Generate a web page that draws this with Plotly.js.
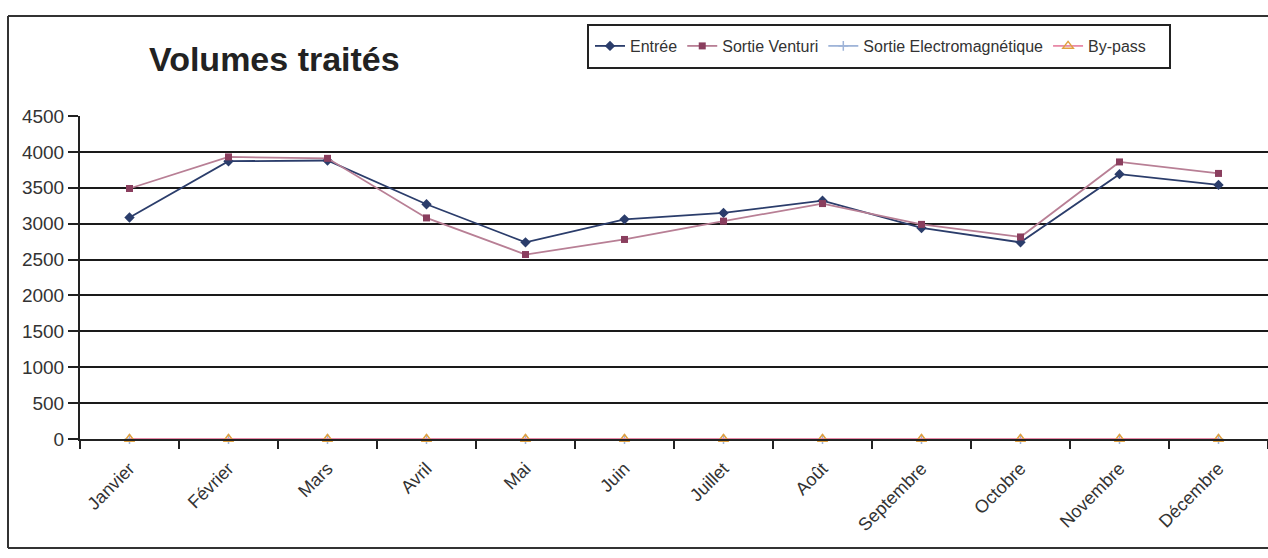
<!DOCTYPE html>
<html><head><meta charset="utf-8">
<script src="https://cdn.plot.ly/plotly-3.0.1.min.js"></script>
<style>html,body{margin:0;padding:0;background:#fff}#c{width:1268px;height:558px}</style>
</head><body><div id="c"></div>
<script>
const months = ["Janvier","Février","Mars","Avril","Mai","Juin","Juillet","Août","Septembre","Octobre","Novembre","Décembre"];
const entree = [3085, 3870, 3880, 3270, 2740, 3060, 3150, 3320, 2940, 2740, 3690, 3540];
const sortieVenturi = [3490, 3930, 3910, 3080, 2570, 2780, 3035, 3280, 2990, 2815, 3860, 3700];
const sortieElectro = [0, 0, 0, 0, 0, 0, 0, 0, 0, 0, 0, 0];
const bypass = [0, 0, 0, 0, 0, 0, 0, 0, 0, 0, 0, 0];
const yTicks = [0, 500, 1000, 1500, 2000, 2500, 3000, 3500, 4000, 4500];

const traces = [
  {x: months, y: entree, name: "Entrée", mode: "lines+markers",
   line: {color: "#2b3d6b", width: 1.8}, marker: {symbol: "diamond", size: 8, color: "#2b3d6b"}, cliponaxis: false},
  {x: months, y: sortieVenturi, name: "Sortie Venturi", mode: "lines+markers",
   line: {color: "#b87f95", width: 1.8}, marker: {symbol: "square", size: 7, color: "#8a3e5e"}, cliponaxis: false},
  {x: months, y: sortieElectro, name: "Sortie Electromagnétique", mode: "lines+markers",
   line: {color: "#9fb4d8", width: 1.8}, marker: {symbol: "cross-thin-open", size: 7, color: "#9fb4d8", line: {color: "#9fb4d8", width: 1.5}}, cliponaxis: false},
  {x: months, y: bypass, name: "By-pass", mode: "lines+markers",
   line: {color: "#e88aa8", width: 1.8}, marker: {symbol: "triangle-up-open", size: 9, color: "#e0a040", line: {color: "#e0a040", width: 1.5}}, cliponaxis: false}
];

// paper-coordinate helpers for plot area x:80..1268, y:116..439
const px = v => (v - 80) / 1188;
const py = v => (439 - v) / 323;

const layout = {
  width: 1268, height: 558,
  margin: {l: 80, r: 0, t: 116, b: 119},
  paper_bgcolor: "#fff", plot_bgcolor: "#fff",
  font: {family: "Liberation Sans, Arial, sans-serif", color: "#222"},
  title: {text: "<b>Volumes traités</b>", font: {size: 34, color: "#222"},
          xref: "paper", x: px(149), xanchor: "left", yref: "container", y: 1 - 59/558, yanchor: "middle"},
  showlegend: true,
  legend: {orientation: "h", x: px(590), xanchor: "left", y: py(46), yanchor: "middle",
           borderwidth: 0, bgcolor: "rgba(0,0,0,0)",
           font: {size: 16, color: "#333"}, itemwidth: 30, tracegroupgap: 0},
  xaxis: {type: "category", range: [-0.5, 11.5], showgrid: false, tickangle: -45,
          ticks: "outside", tickson: "boundaries", ticklen: 8, tickcolor: "#222", tickwidth: 2,
          showline: true, linecolor: "#222", linewidth: 2, zeroline: false,
          ticklabelstandoff: 10,
          tickfont: {size: 18, color: "#333"}},
  yaxis: {range: [0, 4500], tickvals: yTicks, ticktext: yTicks.map(String),
          showgrid: true, gridcolor: "#1a1a1a", gridwidth: 2,
          showline: true, linecolor: "#222", linewidth: 2, zeroline: false,
          ticks: "outside", ticklen: 10, tickcolor: "#222", tickwidth: 2,
          tickfont: {size: 19, color: "#333"}},
  shapes: [
    {type: "rect", xref: "paper", yref: "paper", x0: px(588), x1: px(1170), y0: py(68), y1: py(25), line: {color: "#222", width: 2}, fillcolor: "rgba(0,0,0,0)"},
    {type: "line", xref: "paper", yref: "paper", x0: px(8), x1: px(8), y0: py(548), y1: py(16), line: {color: "#333", width: 2}},
    {type: "line", xref: "paper", yref: "paper", x0: px(8), x1: 1, y0: py(548), y1: py(548), line: {color: "#333", width: 2}},
    {type: "line", xref: "paper", yref: "paper", x0: px(8), x1: 1, y0: py(16), y1: py(16), line: {color: "#333", width: 2}}
  ]
};
Plotly.newPlot("c", traces, layout, {displayModeBar: false, staticPlot: true});
</script></body></html>
